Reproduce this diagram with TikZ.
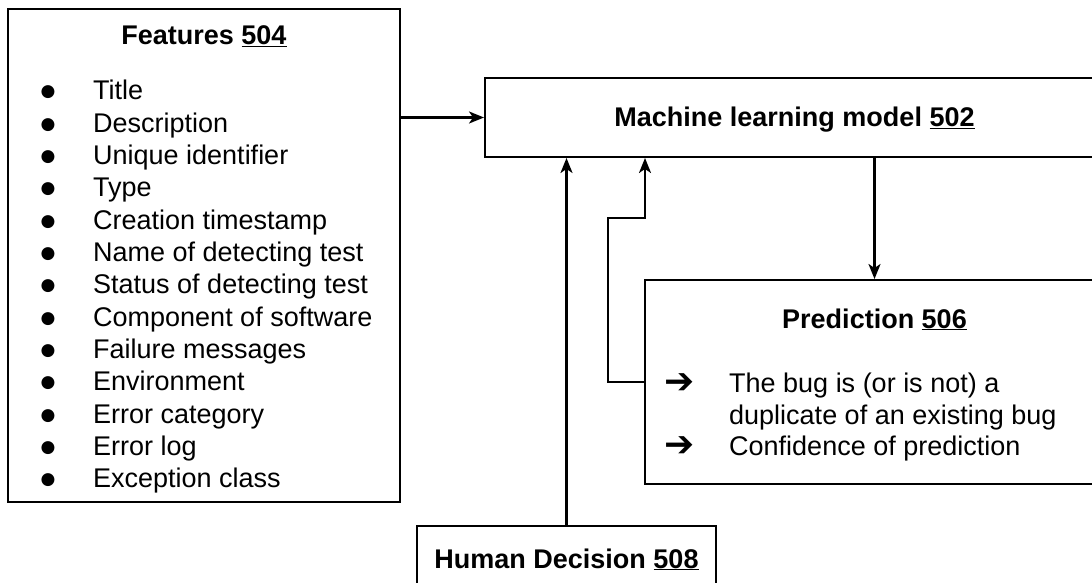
\documentclass[tikz,border=0pt]{standalone}
\usepackage{fontspec}
\setmainfont{Liberation Sans}
\newfontfamily\symfont{DejaVu Sans}
\usetikzlibrary{arrows.meta}
\begin{document}
\begin{tikzpicture}[x=1pt,y=-1pt,
  box/.style={draw, line width=2pt, inner sep=0pt},
  arr/.style={line width=2.2pt, -{Stealth[length=15pt,width=12pt,inset=4pt]}},
  txt/.style={inner sep=0pt, anchor=base, font=\fontsize{27}{32.33}\selectfont},
  ttl/.style={txt, font=\fontsize{27}{32.33}\selectfont\bfseries},
  item/.style={txt, anchor=base west},
  bul/.style={inner sep=0pt, anchor=center, font=\symfont\fontsize{17}{18}\selectfont},
  parr/.style={inner sep=0pt, anchor=center, font=\symfont\fontsize{36}{38}\selectfont}
]
\useasboundingbox (0,0) rectangle (1092,583);
\clip (0,0) rectangle (1092,583);
\fill[white] (0,0) rectangle (1092,583);

% boxes
\node[box, minimum width=392pt, minimum height=493pt] (feat) at (204,255.5) {};
\node[box, minimum width=619pt, minimum height=79pt] (ml) at (794.5,117.5) {};
\node[box, minimum width=459pt, minimum height=204pt] (pred) at (874.5,382) {};
\node[box, minimum width=299pt, minimum height=90pt] (hd) at (566.5,571) {};

% features
\node[ttl] (featT) at (204,45) {Features \underline{504}};
\foreach \t [count=\i from 0] in {Title,Description,Unique identifier,Type,Creation timestamp,Name of detecting test,Status of detecting test,Component of software,Failure messages,Environment,Error category,Error log,Exception class}{
  \node[bul] (b\i) at (48,{92.5+32.33*\i}) {●};
  \node[item] (f\i) at (93,{100+32.33*\i}) {\t};
}

% ML model
\node[ttl] (mlT) at (794.5,127) {Machine learning model \underline{502}};

% prediction
\node[ttl] (predT) at (874.5,328) {Prediction \underline{506}};
\node[parr] (a1) at (679.5,383.5) {➔};
\node[item] (p1) at (729,392) {The bug is (or is not) a};
\node[item] (p2) at (729,424) {duplicate of an existing bug};
\node[parr] (a2) at (679.5,447) {➔};
\node[item] (p3) at (729,455.5) {Confidence of prediction};

% human decision
\node[ttl] (hdT) at (566.5,568) {Human Decision \underline{508}};

% connectors
\draw[arr] (feat.east |- ml.west) -- (ml.west);
\draw[arr] (ml.south -| pred.north) -- (pred.north);
\draw[arr] (hd.north) -- (hd.north |- ml.south);
\coordinate (fbA) at (608,382);
\coordinate (fbB) at (645,218);
\draw[arr] (pred.west) -- (fbA) |- (fbB) -- (fbB |- ml.south);
\end{tikzpicture}
\end{document}
